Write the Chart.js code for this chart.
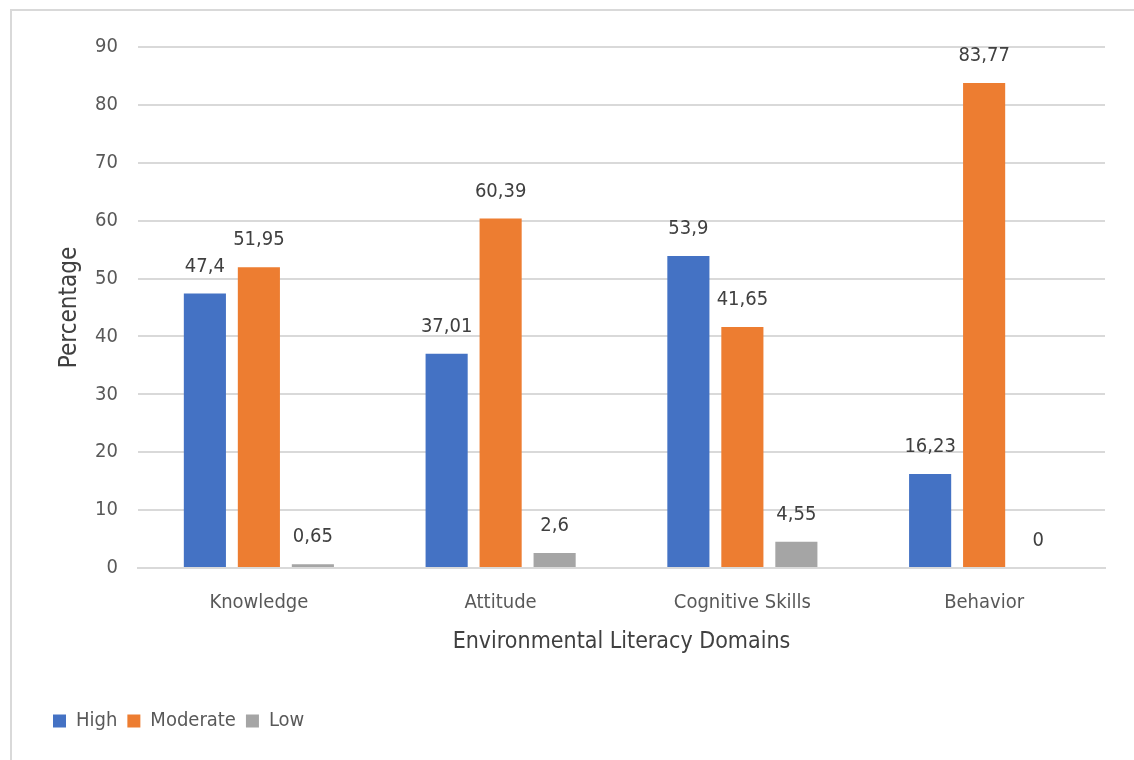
<!DOCTYPE html>
<html>
<head>
<meta charset="utf-8">
<script src="https://cdn.jsdelivr.net/npm/chart.js@4/dist/chart.umd.min.js"></script>
<style>
  html, body { margin: 0; padding: 0; background: #fff; }
  #wrap { position: relative; width: 1134px; height: 760px; overflow: hidden; }
  #frame { position: absolute; left: 10px; top: 9px; width: 1140px; height: 760px;
           border: 2px solid #d9d9d9; box-sizing: border-box; }
  canvas { position: absolute; left: 0; top: 0; }
</style>
</head>
<body>
<div id="wrap">
  <div id="frame"></div>
  <canvas id="chart" width="1134" height="760"></canvas>
</div>
<script>
// Chart data
const categories = ["Knowledge", "Attitude", "Cognitive Skills", "Behavior"];
const highValues = [47.4, 37.01, 53.9, 16.23];
const moderateValues = [51.95, 60.39, 41.65, 83.77];
const lowValues = [0.65, 2.6, 4.55, 0];
const yTicks = [0, 10, 20, 30, 40, 50, 60, 70, 80, 90];

const FONT = '"Liberation Sans Narrow", "DejaVu Sans Condensed", "Roboto", sans-serif';
const TEXT = "#595959";

// Comma as decimal separator, like the original
function fmt(v) {
    return String(v).replace(".", ",");
}

// Simple value labels drawn above each bar
const barLabels = {
    id: "barLabels",
    afterDatasetsDraw(chart) {
        const ctx = chart.ctx;
        ctx.save();
        ctx.font = "20px " + FONT;
        ctx.fillStyle = "#404040";
        ctx.textAlign = "center";
        ctx.textBaseline = "bottom";
        chart.data.datasets.forEach((ds, i) => {
            chart.getDatasetMeta(i).data.forEach((bar, j) => {
                ctx.fillText(fmt(ds.data[j]), bar.x, bar.y - 17);
            });
        });
        ctx.restore();
    }
};

const ctx = document.getElementById("chart").getContext("2d");

new Chart(ctx, {
    type: "bar",
    data: {
        labels: categories,
        datasets: [
            { label: "High", data: highValues, backgroundColor: "#4472C4" },
            { label: "Moderate", data: moderateValues, backgroundColor: "#ED7D31" },
            { label: "Low", data: lowValues, backgroundColor: "#A5A5A5" }
        ]
    },
    options: {
        responsive: false,
        animation: false,
        devicePixelRatio: 1,
        categoryPercentage: 0.67,
        barPercentage: 0.78,
        layout: {
            padding: { left: 43, right: 29, top: 47, bottom: 19 }
        },
        plugins: {
            tooltip: { enabled: false },
            legend: {
                position: "bottom",
                align: "start",
                labels: {
                    boxWidth: 13,
                    boxHeight: 13,
                    padding: 10,
                    color: TEXT,
                    font: { family: FONT, size: 20 }
                }
            }
        },
        scales: {
            x: {
                afterFit(scale) {
                    scale.height = 133;
                },
                grid: { display: false, drawTicks: false },
                border: { display: true, color: "#d9d9d9", width: 2 },
                ticks: {
                    color: TEXT,
                    padding: 23,
                    font: { family: FONT, size: 20 }
                },
                title: {
                    display: true,
                    text: "Environmental Literacy Domains",
                    color: "#404040",
                    font: { family: FONT, size: 23 },
                    padding: { top: 0, bottom: 45 }
                }
            },
            y: {
                min: 0,
                max: 90,
                afterBuildTicks(scale) {
                    scale.ticks = yTicks.map(v => ({ value: v }));
                },
                afterFit(scale) {
                    scale.width = 95;
                },
                grid: { color: "#d9d9d9", lineWidth: 2, drawTicks: false },
                border: { display: false },
                ticks: {
                    color: TEXT,
                    padding: 20,
                    font: { family: FONT, size: 20 }
                },
                title: {
                    display: true,
                    text: "Percentage",
                    color: "#404040",
                    font: { family: FONT, size: 24 },
                    padding: { top: 12, bottom: 0 }
                }
            }
        }
    },
    plugins: [barLabels]
});
</script>
</body>
</html>
